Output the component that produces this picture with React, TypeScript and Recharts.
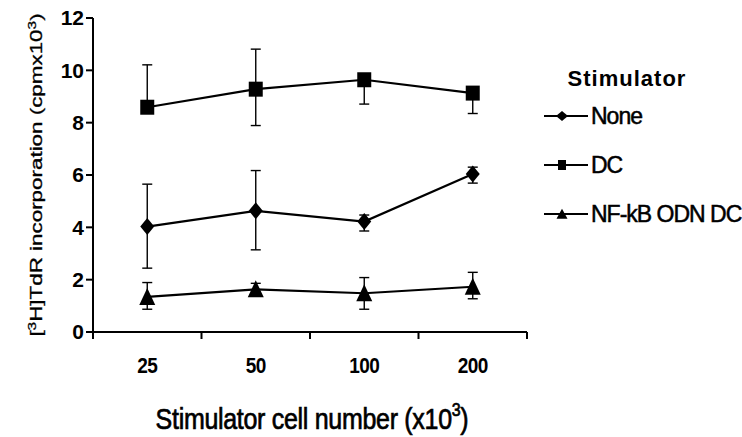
import React from 'react';
import { LineChart, Line, XAxis, YAxis, ErrorBar, Legend } from 'recharts';

// ---- data ----
const categories = ['25', '50', '100', '200'];
const noneValues = [4.03, 4.63, 4.22, 6.04];
const noneErrors = [[1.59, 1.62], [1.49, 1.54], [0.36, 0.25], [0.35, 0.26]];
const dcValues = [8.59, 9.28, 9.64, 9.13];
const dcErrors = [[0, 1.62], [1.39, 1.53], [0.93, 0], [0.78, 0]];
const nfkbValues = [1.34, 1.63, 1.48, 1.73];
const nfkbErrors = [[0.47, 0.55], [0.23, 0.23], [0.61, 0.6], [0.46, 0.55]];
const yTicks = [0, 2, 4, 6, 8, 10, 12];
const seriesNames = ['None', 'DC', 'NF-kB ODN DC'];
const legendTitle = 'Stimulator';

const data = categories.map((label, i) => ({
  x: i + 0.5,
  label,
  none: noneValues[i],
  noneErr: noneErrors[i],
  dc: dcValues[i],
  dcErr: dcErrors[i],
  nfkb: nfkbValues[i],
  nfkbErr: nfkbErrors[i],
}));

const xTicks = Array.from({ length: categories.length * 2 + 1 }, (_, k) => k / 2);

// ---- styling ----
const FONT = '"Liberation Sans", Arial, Helvetica, sans-serif';
const series = [
  { key: 'none', err: 'noneErr', name: seriesNames[0], shape: 'diamond' },
  { key: 'dc', err: 'dcErr', name: seriesNames[1], shape: 'square' },
  { key: 'nfkb', err: 'nfkbErr', name: seriesNames[2], shape: 'triangle' },
];

function markerPath(shape: string, cx: number, cy: number, w: number, h: number) {
  if (shape === 'diamond') {
    return `M${cx},${cy - h / 2}L${cx + w / 2},${cy}L${cx},${cy + h / 2}L${cx - w / 2},${cy}Z`;
  }
  if (shape === 'square') {
    return `M${cx - w / 2},${cy - h / 2}h${w}v${h}h${-w}Z`;
  }
  return `M${cx},${cy - h * 0.53}L${cx + w / 2},${cy + h * 0.47}L${cx - w / 2},${cy + h * 0.47}Z`;
}

const mainSize: Record<string, [number, number]> = {
  diamond: [14, 17],
  square: [14, 15],
  triangle: [16, 17],
};
const legendSize: Record<string, [number, number]> = {
  diamond: [12, 10],
  square: [8, 10],
  triangle: [11, 10],
};

const makeDot = (shape: string) => (props: any) => {
  const { cx, cy, index } = props;
  if (cx == null || cy == null) return <g key={`d-${shape}-${index}`} />;
  const [w, h] = mainSize[shape];
  return <path key={`d-${shape}-${index}`} d={markerPath(shape, cx, cy, w, h)} fill="#000" />;
};

const renderXTick = (props: any) => {
  const { x, y, payload } = props;
  const v = payload.value;
  if (Number.isInteger(v)) {
    return <line x1={x} x2={x} y1={y - 7} y2={y} stroke="#000" strokeWidth={2} />;
  }
  const label = categories[Math.floor(v)];
  return (
    <text
      transform={`translate(${x},${y + 34}) scale(1,1.15)`}
      textAnchor="middle"
      fontFamily={FONT}
      fontSize={19}
      fontWeight={700}
      letterSpacing={-0.5}
      fill="#000"
    >
      {label}
    </text>
  );
};

const renderYLabel = (props: any) => {
  const vb = props.viewBox || { x: 0, y: 18, width: 93, height: 314 };
  const cx = vb.x + 42;
  const cy = vb.y + vb.height / 2;
  return (
    <text
      transform={`translate(${cx},${cy}) rotate(-90) scale(1.4,1)`}
      textAnchor="middle"
      fontFamily={FONT}
      fontSize={16}
      fill="#000"
      stroke="#000"
      strokeWidth={0.3}
    >
      <tspan>[</tspan>
      <tspan fontSize={11} dy={-6}>3</tspan>
      <tspan dy={6}>H]TdR incorporation (cpmx10</tspan>
      <tspan fontSize={11} dy={-6}>3</tspan>
      <tspan dy={6}>)</tspan>
    </text>
  );
};

const renderXLabel = (props: any) => {
  const vb = props.viewBox || { x: 93, y: 332, width: 434, height: 105 };
  const cx = vb.x + vb.width / 2 + 2;
  const y = vb.y + 97;
  return (
    <text
      transform={`translate(${cx},${y}) scale(1,1.15)`}
      textAnchor="middle"
      fontFamily={FONT}
      fontSize={25}
      letterSpacing={-0.3}
      fill="#000"
      stroke="#000"
      strokeWidth={0.6}
    >
      <tspan>Stimulator cell number (x10</tspan>
      <tspan fontSize={16} dy={-11}>3</tspan>
      <tspan dy={11}>)</tspan>
    </text>
  );
};

const renderLegend = () => {
  return (
    <svg width={202} height={180} style={{ display: 'block', overflow: 'visible' }}>
      <text x={87} y={28} textAnchor="middle" fontFamily={FONT} fontSize={22} fontWeight={700} letterSpacing={1} fill="#000">
        {legendTitle}
      </text>
      {series.map((s, i) => {
        const cy = 58 + i * 49;
        const [w, h] = legendSize[s.shape];
        return (
          <g key={s.key}>
            <line x1={4} x2={48} y1={cy} y2={cy} stroke="#000" strokeWidth={2} />
            <path d={markerPath(s.shape, 22, cy, w, h)} fill="#000" />
            <text
              x={51}
              y={cy + 8}
              fontFamily={FONT}
              fontSize={23}
              letterSpacing={-1}
              fill="#000"
              stroke="#000"
              strokeWidth={0.5}
            >
              {s.name}
            </text>
          </g>
        );
      })}
    </svg>
  );
};

export default function App() {
  return (
    <div style={{ position: 'absolute', left: 0, top: 0, width: 742, height: 437, background: '#fff' }}>
      <LineChart width={742} height={437} data={data} margin={{ top: 18, right: 13, bottom: 0, left: 0 }}>
        <XAxis
          type="number"
          dataKey="x"
          domain={[0, 4]}
          ticks={xTicks}
          interval={0}
          height={105}
          tickSize={7}
          tickMargin={0}
          tickLine={false}
          axisLine={{ stroke: '#000', strokeWidth: 2 }}
          tick={renderXTick}
          label={{ content: renderXLabel }}
        />
        <YAxis
          type="number"
          domain={[0, 12]}
          ticks={yTicks}
          interval={0}
          width={93}
          tickSize={7}
          tickMargin={2}
          axisLine={{ stroke: '#000', strokeWidth: 2 }}
          tickLine={{ stroke: '#000', strokeWidth: 2 }}
          tick={{ fill: '#000', fontSize: 21, fontWeight: 700, fontFamily: FONT }}
          label={{ content: renderYLabel }}
        />
        <Legend
          layout="vertical"
          align="right"
          verticalAlign="top"
          width={202}
          content={renderLegend}
          wrapperStyle={{ left: 540, top: 58 }}
        />
        {series.map((s) => (
          <Line
            key={s.key}
            type="linear"
            dataKey={s.key}
            name={s.name}
            stroke="#000"
            strokeWidth={2.2}
            dot={makeDot(s.shape)}
            activeDot={false}
            isAnimationActive={false}
          >
            <ErrorBar dataKey={s.err} width={5} stroke="#000" strokeWidth={1.4} direction="y" />
          </Line>
        ))}
      </LineChart>
    </div>
  );
}
